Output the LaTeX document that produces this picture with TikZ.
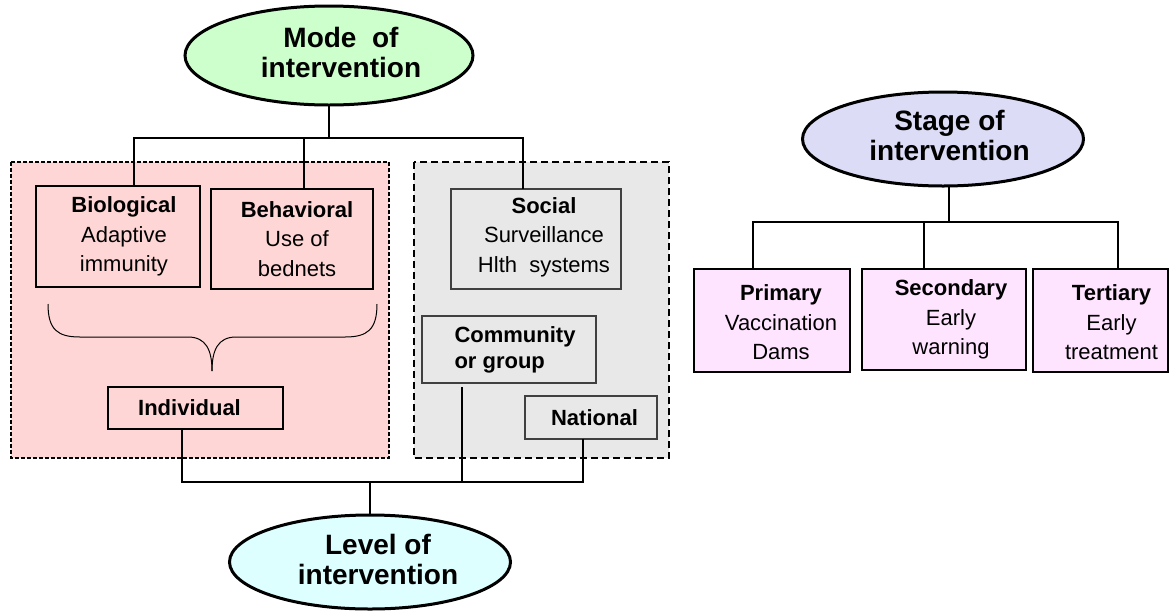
\documentclass[tikz,border=0pt]{standalone}
\usepackage{fontspec}
\setmainfont{Liberation Sans}
\usetikzlibrary{shapes.geometric}

\definecolor{modegreen}{HTML}{CCFFCC}
\definecolor{stageblue}{HTML}{DCDCF6}
\definecolor{levelcyan}{HTML}{DDFFFF}
\definecolor{pinkzone}{HTML}{FFD6D6}
\definecolor{grayzone}{HTML}{E8E8E8}
\definecolor{stagepink}{HTML}{FFE4FF}

\begin{document}
\begin{tikzpicture}[x=1pt, y=-1pt,
    every node/.style={inner sep=0pt, outer sep=0pt},
    heading/.style={ellipse, draw, line width=3pt, minimum width=281pt, minimum height=94pt},
    headtext/.style={align=center, font=\fontsize{28}{30}\selectfont\bfseries},
    itembox/.style={draw, line width=1.2pt},
    graybox/.style={itembox, draw=black!75},
    stagebox/.style={itembox, line width=2pt, fill=stagepink},
    boxtext/.style={align=center, font=\fontsize{22}{29.5}\selectfont},
    boldtext/.style={boxtext, font=\fontsize{22}{26}\selectfont\bfseries},
    link/.style={line width=1.4pt}]

\useasboundingbox (0,0) rectangle (1170,611);

\draw[line width=2pt, dash pattern=on 4pt off 2pt, fill=pinkzone] (11,162) rectangle (389,458);
\draw[line width=2pt, dash pattern=on 7pt off 4pt, fill=grayzone] (414,162) rectangle (669,458);

\draw[line width=1pt] (48,304) .. controls (48,330) and (58,337) .. (80,337) -- (188,337)
    .. controls (206,337) and (212,350) .. (212,371);
\draw[line width=1pt] (377,304) .. controls (377,330) and (367,337) .. (345,337) -- (236,337)
    .. controls (218,337) and (212,350) .. (212,371);

\node[heading, fill=modegreen, minimum width=288pt, minimum height=99pt] (mode) at (329,55.5) {};
\node[headtext] at ([xshift=12pt,yshift=3pt]mode) {Mode\ \ of\\intervention};
\node[heading, fill=stageblue] (stage) at (943,139) {};
\node[headtext] at ([xshift=6.5pt,yshift=4pt]stage) {Stage of\\intervention};
\node[heading, fill=levelcyan] (level) at (370,562) {};
\node[headtext] at ([xshift=8pt,yshift=3pt]level) {Level of\\intervention};

\node[itembox, minimum width=164pt, minimum height=101pt] (bio) at (118,236.5) {};
\node[boxtext] at ([xshift=6pt]bio) {\textbf{Biological}\\Adaptive\\immunity};
\node[itembox, minimum width=162pt, minimum height=100pt] (behav) at (292,239) {};
\node[boxtext] at ([xshift=5pt]behav) {\textbf{Behavioral}\\Use of\\bednets};
\node[graybox, minimum width=170pt, minimum height=100pt] (social) at (536,239) {};
\node[boxtext] at ([xshift=8pt,yshift=2pt]social) {\textbf{Social}\\Surveillance\\Hlth\ \ systems};
\node[graybox, minimum width=174pt, minimum height=67pt] (commun) at (509,349.5) {};
\node[boldtext, align=left] at ([xshift=6pt]commun) {Community\\or group};
\node[graybox, minimum width=132pt, minimum height=43pt] (national) at (591,417.5) {};
\node[boldtext] at ([xshift=3.5pt]national) {National};
\node[itembox, minimum width=175pt, minimum height=42pt] (indiv) at (195.5,408) {};
\node[boldtext] at ([xshift=-6pt]indiv) {Individual};

\node[stagebox, minimum width=156pt, minimum height=103pt] (primary) at (772,320.5) {};
\node[boxtext] at ([xshift=9pt,yshift=-2pt]primary) {\textbf{Primary}\\Vaccination\\Dams};
\node[stagebox, minimum width=164pt, minimum height=101pt] (secondary) at (944,319.5) {};
\node[boxtext] at ([xshift=7pt]secondary) {\textbf{Secondary}\\Early\\warning};
\node[stagebox, minimum width=135pt, minimum height=103pt] (tertiary) at (1100.5,320.5) {};
\node[boxtext] at ([xshift=11pt,yshift=-2pt]tertiary) {\textbf{Tertiary}\\Early\\treatment};

\draw[link] (mode.south) -- ++(0,33) coordinate (mfork);
\draw[link] ([xshift=16pt]bio.north) |- (mfork) -| ([xshift=-13pt]social.north);
\draw[link] ([xshift=12pt]behav.north) -- ([xshift=12pt]behav.north |- mfork);

\draw[link] ([xshift=6pt]stage.south) -- ++(0,36) coordinate (sfork);
\draw[link] ([xshift=-19pt]primary.north) |- (sfork) -| ([xshift=17.5pt]tertiary.north);
\draw[link] ([xshift=-20pt]secondary.north) -- ([xshift=-20pt]secondary.north |- sfork);

\draw[link] (level.north) -- ++(0,-33) coordinate (lfork);
\draw[link] ([xshift=-13.5pt]indiv.south) |- (lfork) -| ([xshift=-8pt]national.south);
\draw[link] ([xshift=-47pt,yshift=-4pt]commun.south) -- ([xshift=-47pt]commun.south |- lfork);

\end{tikzpicture}
\end{document}
